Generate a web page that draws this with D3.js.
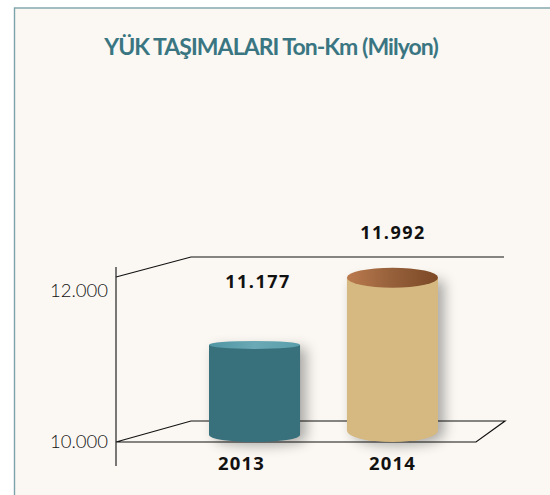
<!DOCTYPE html>
<html><head><meta charset="utf-8">
<script src="https://cdn.jsdelivr.net/npm/d3@7/dist/d3.min.js"></script>
<style>html,body{margin:0;padding:0;background:#fff;overflow:hidden}svg{display:block}</style>
</head><body><div id="chart"></div>
<script>
const title = "YÜK TAŞIMALARI Ton-Km (Milyon)";
const years = ["2013", "2014"];
const tons = [11177, 11992];
const valueLabels = ["11.177", "11.992"];
const tickValues = [10000, 12000];
const tickLabels = ["10.000", "12.000"];
const bodyColors = ["#38707c", "#d5b981"];
const capStops = [["#4f95a3", "#6aa9b5", "#5a9eab"], ["#bb7a4e", "#95603a", "#7c4826"]];

const W = 550, H = 495;
const svg = d3.select("#chart").append("svg").attr("width", W).attr("height", H);
const defs = svg.append("defs");

const shadow = defs.append("filter").attr("id","sh").attr("x","-40%").attr("y","-20%").attr("width","180%").attr("height","140%");
shadow.append("feGaussianBlur").attr("stdDeviation", 6.5);

capStops.forEach((s,i)=>{
  const g = defs.append("linearGradient").attr("id","cap"+i);
  s.forEach((c,j)=>g.append("stop").attr("offset", j/(s.length-1)).attr("stop-color", c));
});

// panel
svg.append("rect").attr("x",14.5).attr("y",8).attr("width",W).attr("height",H)
  .attr("fill","#fbf8f3").attr("stroke","#7da3aa").attr("stroke-width",1.4);

svg.append("text").attr("x",271).attr("y",55).attr("text-anchor","middle")
  .attr("font-family","Lato").attr("font-weight",700).attr("font-size",23).attr("letter-spacing",-0.95)
  .attr("fill","#3a7682").text(title);

// scales
const y = d3.scaleLinear().domain([10000,12000]).range([442,277]);
const yLabel = d3.scaleLinear().domain([10000,12000]).range([442,291]);
const x = d3.scaleBand().domain(years).range([209,438]).paddingInner(0.34).paddingOuter(0);

// frame
const frame = svg.append("g").attr("fill","none").attr("stroke","#111").attr("stroke-width",1.2);
const line = d3.line();
const floorY = y(10000), backFloorY = floorY-21, backTopY = y(12000)-20;
frame.append("path").attr("d", line([[116,floorY],[476,floorY],[505,backFloorY],[191,backFloorY],[116,floorY]]));
frame.append("path").attr("d", line([[116,y(12000)],[191,backTopY],[504,backTopY]]));

// bars
const bars = svg.append("g");
const ryTop = [4, 10], ryBottom = [7, 11.5], bottomY = [435, 430.5];
const valueX = [258, 393], valueY = [288, 239], yearShift = [-13, 0];
years.forEach((yr,i)=>{
  const cx = x(yr)+x.bandwidth()/2, rx = x.bandwidth()/2;
  const top = y(tons[i]), bot = bottomY[i];
  const ryT = ryTop[i], ryB = ryBottom[i];
  const d = `M${cx-rx},${top}L${cx-rx},${bot}A${rx},${ryB} 0 0 0 ${cx+rx},${bot}L${cx+rx},${top}Z`;
  bars.append("path").attr("d",d).attr("transform","translate(6,3)").attr("fill","#000").attr("opacity",0.33).attr("filter","url(#sh)");
  bars.append("path").attr("d",d).attr("fill",bodyColors[i]);
  bars.append("ellipse").attr("cx",cx).attr("cy",top).attr("rx",rx).attr("ry",ryT).attr("fill",`url(#cap${i})`);
  svg.append("text").attr("x",valueX[i]).attr("y",valueY[i]).attr("text-anchor","middle")
    .attr("font-family","Open Sans").attr("font-weight",700).attr("font-size",18).attr("letter-spacing",1.5)
    .attr("fill","#111").text(valueLabels[i]);
  svg.append("text").attr("x",cx+yearShift[i]).attr("y",470).attr("text-anchor","middle")
    .attr("font-family","Open Sans").attr("font-weight",700).attr("font-size",18.5).attr("letter-spacing",1.2)
    .attr("fill","#111").text(yr);
});

// y axis
const axis = d3.axisLeft(yLabel).tickValues(tickValues).tickFormat((d,i)=>tickLabels[i]).tickSize(0).tickPadding(8);
const ag = svg.append("g").attr("transform","translate(116,0)").call(axis);
ag.select(".domain").remove();
ag.selectAll("text").attr("font-family","Lato").attr("font-weight",300).attr("font-size",18.5).attr("fill","#111");
svg.append("line").attr("x1",116).attr("x2",116).attr("y1",267).attr("y2",466).attr("stroke","#222").attr("stroke-width",1.2);
</script></body></html>
